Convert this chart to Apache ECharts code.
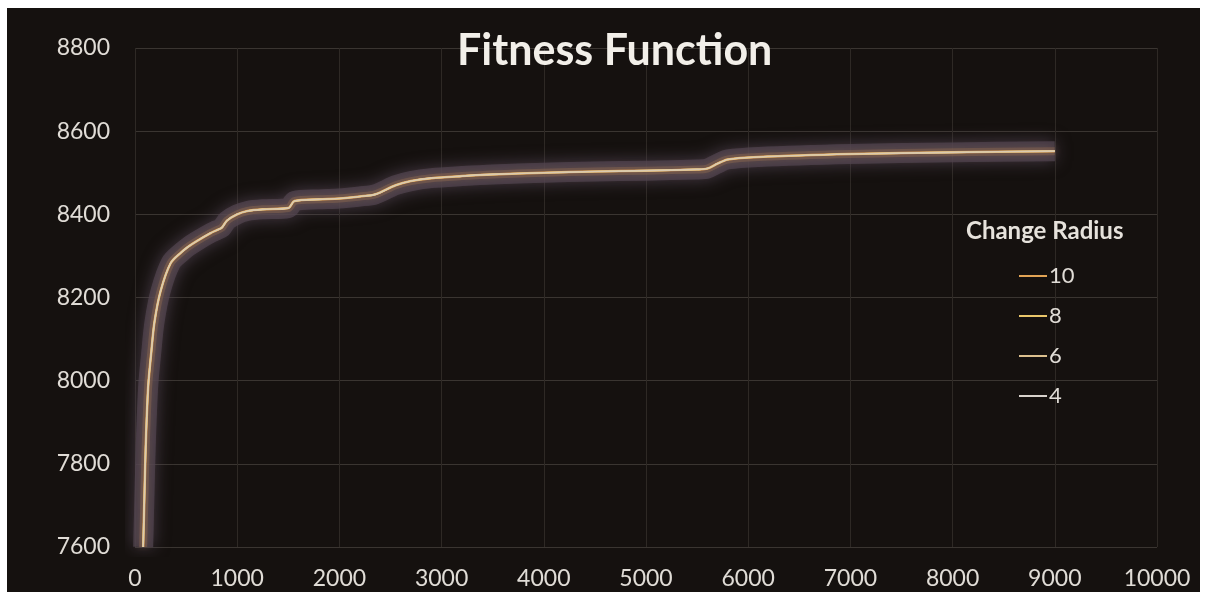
<!DOCTYPE html>
<html>
<head>
<meta charset="utf-8">
<script src="https://cdn.jsdelivr.net/npm/echarts@6/dist/echarts.min.js"></script>
<style>
html,body{margin:0;padding:0;background:#ffffff;}
#bg{position:absolute;left:7px;top:8px;width:1193px;height:584px;background:#15110f;}
#chart{position:absolute;left:0;top:0;width:1206px;height:597px;}
</style>
</head>
<body>
<div id="bg"></div>
<div id="chart"></div>
<script>
// ---- data ----
const iterations = [80, 90, 100, 110, 130, 160, 190, 250, 350, 450, 520, 600, 740, 800, 850, 900, 1000, 1100, 1250, 1500, 1560, 1800, 2000, 2200, 2350, 2550, 2700, 2900, 3200, 3500, 4000, 4500, 5000, 5500, 5600, 5700, 5800, 6100, 7000, 8000, 9000];
const radius10 = [7600, 7700, 7800, 7880, 7990, 8070, 8140, 8215, 8283, 8308, 8322, 8335, 8355, 8362, 8368, 8385, 8400, 8408, 8412, 8415, 8432, 8436, 8438, 8443, 8448, 8470, 8480, 8487, 8492, 8496, 8500, 8503, 8505, 8508, 8510, 8522, 8532, 8538, 8545, 8549, 8552];
const radius8  = [7600, 7700, 7800, 7880, 7990, 8070, 8140, 8215, 8283, 8308, 8322, 8335, 8355, 8362, 8368, 8385, 8400, 8408, 8412, 8415, 8432, 8436, 8438, 8443, 8448, 8470, 8480, 8487, 8492, 8496, 8500, 8503, 8505, 8508, 8510, 8522, 8532, 8538, 8545, 8549, 8552];
const radius6  = [7600, 7700, 7800, 7880, 7990, 8070, 8140, 8215, 8283, 8308, 8322, 8335, 8355, 8362, 8368, 8385, 8400, 8408, 8412, 8415, 8432, 8436, 8438, 8443, 8448, 8470, 8480, 8487, 8492, 8496, 8500, 8503, 8505, 8508, 8510, 8522, 8532, 8538, 8545, 8549, 8552];
const radius4  = [7600, 7700, 7800, 7880, 7990, 8070, 8140, 8215, 8283, 8308, 8322, 8335, 8355, 8362, 8368, 8385, 8400, 8408, 8412, 8415, 8432, 8436, 8438, 8443, 8448, 8470, 8480, 8487, 8492, 8496, 8500, 8503, 8505, 8508, 8510, 8522, 8532, 8538, 8545, 8549, 8552];
const seriesNames = ['10', '8', '6', '4'];
const yTicks = [7600, 7800, 8000, 8200, 8400, 8600, 8800];
const xTicks = [0, 1000, 2000, 3000, 4000, 5000, 6000, 7000, 8000, 9000, 10000];

const pair = (ys) => iterations.map((x, i) => [x, ys[i]]);
const colors = {'10': '#e2a455', '8': '#e9c66a', '6': '#dcc08e', '4': '#d8d2cc'};
const dataByName = {'10': radius10, '8': radius8, '6': radius6, '4': radius4};

const chart = echarts.init(document.getElementById('chart'), null, {renderer: 'canvas'});

const glowSeries = [
  {
    name: 'glow-outer', type: 'line', data: pair(radius4), showSymbol: false, smooth: 0.3,
    silent: true, z: 1, animation: false,
    lineStyle: {width: 20, color: 'rgba(80,68,80,0.75)', shadowBlur: 16, shadowColor: 'rgba(95,80,98,0.9)', cap: 'butt', join: 'round'}
  },
  {
    name: 'glow-inner', type: 'line', data: pair(radius10), showSymbol: false, smooth: 0.3,
    silent: true, z: 2, animation: false,
    lineStyle: {width: 8, color: 'rgba(150,110,80,0.4)', shadowBlur: 8, shadowColor: 'rgba(180,125,75,0.5)', cap: 'butt', join: 'round'}
  }
];

const mainSeries = ['10', '8', '6', '4'].map((n, i) => ({
  name: n, type: 'line', data: pair(dataByName[n]), showSymbol: false, smooth: 0.3,
  z: 3 + i, animation: false,
  lineStyle: {width: n === '10' ? 2.5 : 1.6, color: colors[n], opacity: n === '4' ? 0.55 : 1, join: 'round'},
  itemStyle: {color: colors[n]}
}));

chart.setOption({
  backgroundColor: 'transparent',
  animation: false,
  title: [
    {text: 'Fitness Function', left: 452, top: 25,
     textStyle: {color: '#f2efe9', fontFamily: 'Lato', fontWeight: 'bold', fontSize: 43}},
    {text: 'Change Radius', left: 961, top: 214,
     textStyle: {color: '#e6e2dc', fontFamily: 'Lato', fontWeight: 'bold', fontSize: 24}}
  ],
  legend: {
    data: seriesNames, orient: 'vertical', left: 1014, top: 260,
    itemWidth: 28, itemHeight: 2, itemGap: 18, icon: 'rect',
    textStyle: {color: '#e0dcd6', fontFamily: 'Lato', fontSize: 22, lineHeight: 22, padding: [0, 0, 0, -3]},
    selectedMode: false
  },
  grid: {left: 135, right: 49, top: 48, bottom: 50},
  xAxis: {
    type: 'value', min: 0, max: 10000, interval: 1000,
    axisLine: {show: false}, axisTick: {show: false},
    axisLabel: {color: '#e0dcd6', fontFamily: 'Lato', fontSize: 23, margin: 20,
                formatter: (v) => xTicks.includes(v) ? String(v) : ''},
    splitLine: {show: true, lineStyle: {color: '#2e2925', width: 1}}
  },
  yAxis: {
    type: 'value', min: 7600, max: 8800, interval: 200,
    axisLine: {show: false}, axisTick: {show: false},
    axisLabel: {color: '#e0dcd6', fontFamily: 'Lato', fontSize: 23, margin: 25,
                formatter: (v) => yTicks.includes(v) ? String(v) : ''},
    splitLine: {show: true, lineStyle: {color: '#3a3531', width: 1}}
  },
  series: glowSeries.concat(mainSeries)
});
</script>
</body>
</html>
